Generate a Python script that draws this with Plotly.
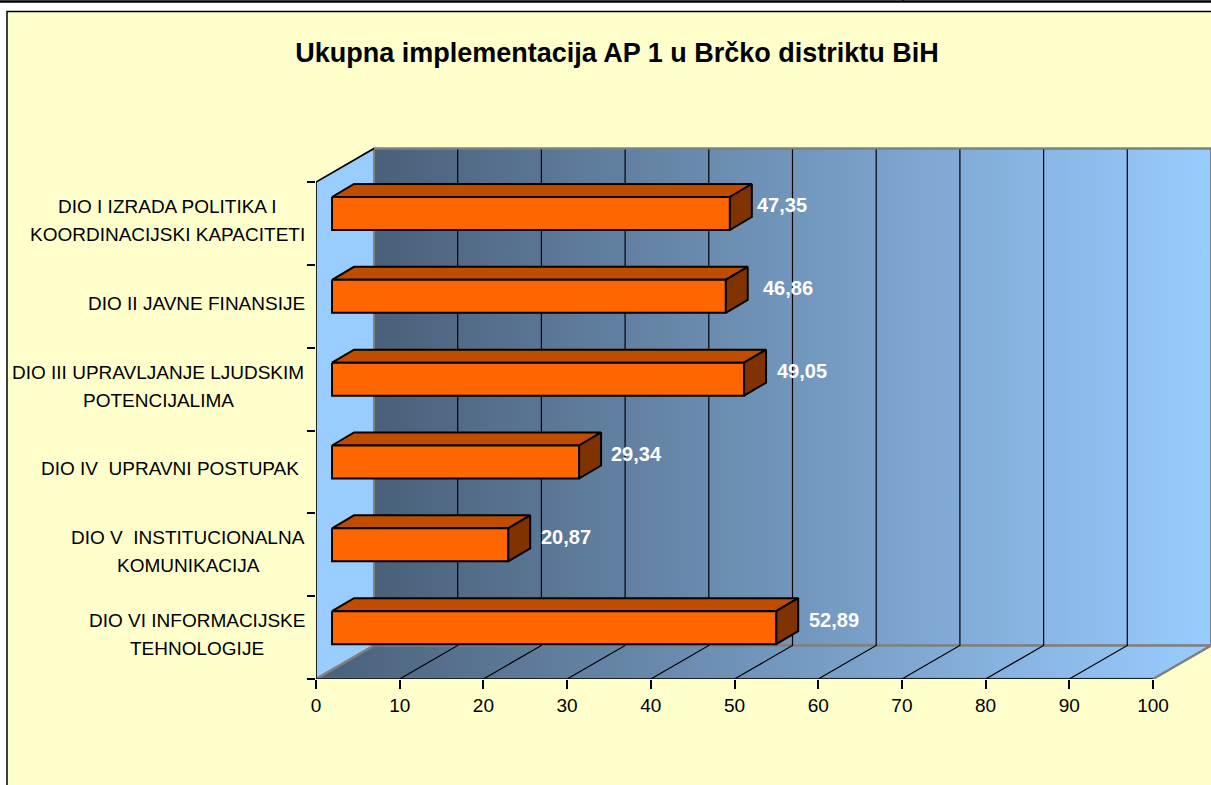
import plotly.graph_objects as go

title = "Ukupna implementacija AP 1 u Brčko distriktu BiH"
categories = [
    "DIO I IZRADA POLITIKA I<br>KOORDINACIJSKI KAPACITETI",
    "DIO II JAVNE FINANSIJE",
    "DIO III UPRAVLJANJE LJUDSKIM<br>POTENCIJALIMA",
    "DIO IV  UPRAVNI POSTUPAK",
    "DIO V  INSTITUCIONALNA<br>KOMUNIKACIJA",
    "DIO VI INFORMACIJSKE<br>TEHNOLOGIJE",
]
values = [47.35, 46.86, 49.05, 29.34, 20.87, 52.89]
value_text = ["47,35", "46,86", "49,05", "29,34", "20,87", "52,89"]
x_ticks = [0, 10, 20, 30, 40, 50, 60, 70, 80, 90, 100]

W, H = 1211, 785
X0_PX, X100_PX = 316, 1153
Y0_PX, Y6_PX = 679, 182
AXIS_TOP_PX = 140
PX_X = (X100_PX - X0_PX) / 100
PX_Y = (Y0_PX - Y6_PX) / 6
dx = lambda px: px / PX_X
dy = lambda px: px / PX_Y

DEPTH_X, DEPTH_Y = dx(58), dy(33.5)
BAR_X0 = dx(16)
BAR_EXTRA = dx(1.5)
BAR_TOP_INSET, BAR_H = dy(15), dy(33)
BAR_DX, BAR_DY = dx(22), dy(13)
LABEL_OFFSET = dx(75)
label_nudge = [-5, 5, 0, 0, 0, 0]
cat_center_px = [167, 196, 158, 170, 188, 197]
GRAD = [[0, "#4a6079"], [1, "#99ccff"]]
GRAY = "#808080"

fig = go.Figure()


def poly(xs, ys, fill=None, line="black", width=1.5, gradient=None):
    kw = {}
    if gradient:
        kw["fillgradient"] = dict(type="horizontal", colorscale=gradient)
    elif fill:
        kw["fillcolor"] = fill
    fig.add_trace(go.Scatter(
        x=xs, y=ys, mode="lines", fill="toself" if (fill or gradient) else None,
        line=dict(color=line, width=width), hoverinfo="skip", showlegend=False,
        cliponaxis=False, **kw))


top = 6 + DEPTH_Y
# side wall, back wall, floor
poly([0, DEPTH_X, DEPTH_X, 0, 0], [0, DEPTH_Y, top, 6, 0], fill="#99ccff", line=GRAY, width=1.5)
poly([DEPTH_X, 100 + DEPTH_X, 100 + DEPTH_X, DEPTH_X, DEPTH_X],
     [DEPTH_Y, DEPTH_Y, top, top, DEPTH_Y], gradient=GRAD, line=GRAY, width=2)
poly([0, 100, 100 + DEPTH_X, DEPTH_X, 0], [0, 0, DEPTH_Y, DEPTH_Y, 0], gradient=GRAD, line=GRAY, width=2.5)

# grid lines on wall and floor
for t in x_ticks[1:-1]:
    poly([t, t + DEPTH_X, t + DEPTH_X], [0, DEPTH_Y, top], line="black", width=1.2)

# axes lines
poly([0, 100], [0, 0], line="black", width=1.5)
poly([0, 0, DEPTH_X], [0, 6, top], line="black", width=1.5)
poly([DEPTH_X, 100 + DEPTH_X], [top, top], line=GRAY, width=2)

# 3D bars
for i, v in enumerate(values):
    band_top = 6 - i
    yt = band_top - BAR_TOP_INSET
    yb = yt - BAR_H
    x0 = BAR_X0
    x1 = BAR_X0 + BAR_EXTRA + v
    poly([x0, x0 + BAR_DX, x1 + BAR_DX, x1, x0], [yt, yt + BAR_DY, yt + BAR_DY, yt, yt], fill="#bf4d00", width=2)
    poly([x1, x1 + BAR_DX, x1 + BAR_DX, x1, x1], [yt, yt + BAR_DY, yb + BAR_DY, yb, yt], fill="#803300", width=2)
    poly([x0, x1, x1, x0, x0], [yt, yt, yb, yb, yt], fill="#ff6600", width=2)
    fig.add_annotation(x=v + LABEL_OFFSET, y=band_top - 0.5 + dy(18), text=f"<b>{value_text[i]}</b>",
                       showarrow=False, xshift=label_nudge[i],
                       font=dict(family="Liberation Sans", size=20, color="white"))
    lines = categories[i].split("<br>")
    for j, txt in enumerate(lines):
        fig.add_annotation(x=0, y=band_top - 0.5, text=txt, showarrow=False, xanchor="center",
                           xshift=cat_center_px[i] - X0_PX,
                           yshift=((14 - 28 * j) if len(lines) > 1 else 0) + 3,
                           font=dict(family="Liberation Sans", size=19, color="black"))

fig.update_layout(
    width=W, height=H, autosize=False,
    margin=dict(l=0, r=0, t=0, b=0, pad=0, autoexpand=False),
    paper_bgcolor="white", plot_bgcolor="rgba(0,0,0,0)",
    showlegend=False,
    title=dict(text=f"<b>{title}</b>", x=617 / W, xanchor="center", xref="paper",
               y=1 - 53 / H, yanchor="middle", yref="paper",
               font=dict(family="Liberation Sans", size=27, color="black")),
    xaxis=dict(domain=[X0_PX / W, 1], range=[0, (W - X0_PX) / PX_X], showgrid=False, zeroline=False, showline=False,
               tickmode="array", tickvals=x_ticks, ticktext=[str(t) for t in x_ticks],
               ticks="outside", ticklen=9, tickwidth=1.5, tickcolor="black",
               tickfont=dict(family="Liberation Sans", size=19, color="black")),
    yaxis=dict(domain=[(H - Y0_PX) / H, (H - AXIS_TOP_PX) / H], range=[0, (Y0_PX - AXIS_TOP_PX) / PX_Y],
               showgrid=False, zeroline=False, showline=False,
               tickmode="array", tickvals=list(range(7)), showticklabels=False,
               ticks="outside", ticklen=8, tickwidth=1.5, tickcolor="black"),
    shapes=[
        dict(type="rect", xref="paper", yref="paper", x0=7 / W, x1=1.01, y0=-0.01, y1=1 - 11.5 / H,
             fillcolor="#ffffcc", line=dict(color="black", width=1.5), layer="below"),
        dict(type="line", xref="paper", yref="paper", x0=0, x1=1, y0=1 - 1.5 / H, y1=1 - 1.5 / H,
             line=dict(color="black", width=2.5), layer="below"),
        dict(type="line", xref="paper", yref="paper", x0=903 / W, x1=903 / W, y0=1 - 2 / H, y1=1,
             line=dict(color="black", width=1.5), layer="below"),
    ],
)

fig.write_html("out.html", post_script="document.body.style.margin='0';", config={"displayModeBar": False})
